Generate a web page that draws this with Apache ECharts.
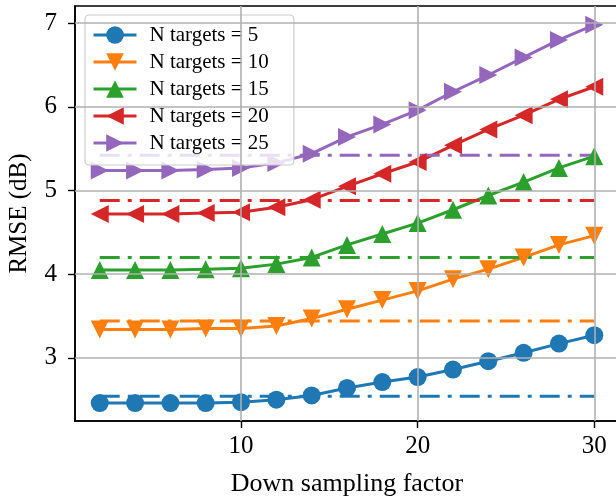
<!DOCTYPE html>
<html>
<head>
<meta charset="utf-8">
<script src="https://cdn.jsdelivr.net/npm/echarts@6/dist/echarts.min.js"></script>
<style>
  html, body { margin: 0; padding: 0; background: #fff; }
  #chart { width: 616px; height: 500px; }
</style>
</head>
<body>
<div id="chart"></div>
<script>
// Down sampling factors
const factors = [2, 4, 6, 8, 10, 12, 14, 16, 18, 20, 22, 24, 26, 28, 30];

// RMSE (dB) per number of targets
const rmseN5  = [2.46, 2.46, 2.46, 2.46, 2.47, 2.50, 2.55, 2.64, 2.71, 2.77, 2.86, 2.96, 3.06, 3.17, 3.27];
const rmseN10 = [3.34, 3.34, 3.34, 3.35, 3.35, 3.38, 3.47, 3.58, 3.69, 3.80, 3.94, 4.06, 4.20, 4.35, 4.46];
const rmseN15 = [4.05, 4.05, 4.05, 4.06, 4.07, 4.12, 4.20, 4.35, 4.48, 4.61, 4.77, 4.94, 5.10, 5.27, 5.41];
const rmseN20 = [4.72, 4.72, 4.72, 4.73, 4.74, 4.80, 4.89, 5.05, 5.20, 5.34, 5.54, 5.73, 5.90, 6.09, 6.24];
const rmseN25 = [5.24, 5.24, 5.24, 5.25, 5.27, 5.33, 5.44, 5.64, 5.79, 5.96, 6.18, 6.38, 6.59, 6.80, 6.98];

// Reference level (no down sampling) per number of targets
const baselines = [2.54, 3.44, 4.20, 4.88, 5.42];

const seriesNames = ['N targets = 5', 'N targets = 10', 'N targets = 15', 'N targets = 20', 'N targets = 25'];
const xTicks = [10, 20, 30];
const yTicks = [3, 4, 5, 6, 7];

const colors = ['#1f77b4', '#ff7f0e', '#2ca02c', '#d62728', '#9467bd'];
const symbols = ['circle', 'triangle', 'triangle', 'triangle', 'triangle'];
const rotations = [0, 180, 0, 90, -90];
const allRmse = [rmseN5, rmseN10, rmseN15, rmseN20, rmseN25];

const FONT = 'Liberation Serif';

const series = [];
// gridlines drawn underneath everything
series.push({
  type: 'line',
  data: [],
  silent: true,
  z: 1,
  markLine: {
    silent: true,
    symbol: 'none',
    label: { show: false },
    lineStyle: { color: '#b0b0b0', width: 1.6, type: 'solid' },
    emphasis: { disabled: true },
    data: xTicks.map(v => ({ xAxis: v })).concat(yTicks.map(v => ({ yAxis: v })))
  }
});

allRmse.forEach((vals, i) => {
  series.push({
    name: seriesNames[i],
    type: 'line',
    z: 3,
    data: factors.map((f, j) => [f, vals[j]]),
    symbol: symbols[i],
    symbolSize: 18,
    symbolRotate: rotations[i],
    showAllSymbol: true,
    lineStyle: { color: colors[i], width: 3 },
    itemStyle: { color: colors[i], opacity: 1 },
    emphasis: { disabled: true },
    animation: false
  });
  series.push({
    name: 'ref' + i,
    type: 'line',
    z: 3,
    data: [[factors[0], baselines[i]], [factors[factors.length - 1], baselines[i]]],
    symbol: 'none',
    lineStyle: { color: colors[i], width: 3, type: [20, 8, 4, 8] },
    emphasis: { disabled: true },
    animation: false
  });
});

const chart = echarts.init(document.getElementById('chart'), null, { renderer: 'canvas' });
chart.setOption({
  animation: false,
  grid: {
    left: 75, top: 6, right: -3, bottom: 79,
    outerBoundsMode: 'none',
    show: true, borderColor: '#000', borderWidth: 1.6, backgroundColor: 'transparent'
  },
  legend: {
    data: seriesNames,
    left: 85, top: 15,
    orient: 'vertical',
    itemWidth: 43, itemHeight: 22, itemGap: 5,
    padding: [9, 25, 11, 7],
    backgroundColor: 'rgba(255,255,255,0.8)',
    borderColor: '#cccccc', borderWidth: 1.2, borderRadius: 4,
    symbolRotate: 'inherit',
    lineStyle: { width: 3 },
    textStyle: { fontFamily: FONT, fontSize: 21, color: '#000', padding: [0, 0, 0, 8], lineHeight: 22 },
    selectedMode: false
  },
  xAxis: {
    type: 'value', min: 0.6, max: 31.4,
    name: 'Down sampling factor', nameLocation: 'middle', nameGap: 50,
    nameTextStyle: { fontFamily: FONT, fontSize: 26, color: '#000' },
    axisLine: { show: true, onZero: false, lineStyle: { color: '#000', width: 1.6 } },
    axisTick: { show: true, inside: false, length: 7, customValues: xTicks, lineStyle: { color: '#000', width: 1.4 } },
    axisLabel: { customValues: xTicks, margin: 13, fontFamily: FONT, fontSize: 25, color: '#000' },
    splitLine: { show: false }
  },
  yAxis: {
    type: 'value', min: 2.245, max: 7.205,
    name: 'RMSE (dB)', nameLocation: 'middle', nameGap: 43,
    nameTextStyle: { fontFamily: FONT, fontSize: 25, color: '#000' },
    axisLine: { show: true, onZero: false, lineStyle: { color: '#000', width: 1.6 } },
    axisTick: { show: true, inside: false, length: 7, customValues: yTicks, lineStyle: { color: '#000', width: 1.4 } },
    axisLabel: { customValues: yTicks, margin: 18, fontFamily: FONT, fontSize: 25, color: '#000' },
    splitLine: { show: false }
  },
  series: series
});
</script>
</body>
</html>
